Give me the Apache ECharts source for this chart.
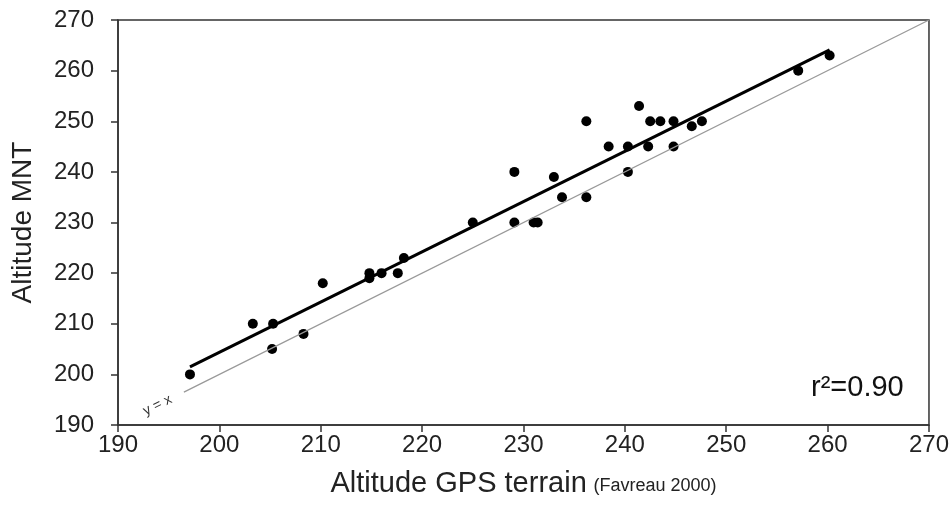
<!DOCTYPE html>
<html>
<head>
<meta charset="utf-8">
<script src="https://cdn.jsdelivr.net/npm/echarts@6/dist/echarts.min.js"></script>
<style>
html,body{margin:0;padding:0;background:#fff}
#main{width:952px;height:518px}
</style>
</head>
<body>
<div id="main"></div>
<script>
// GPS altitude (x) vs DEM altitude (y)
var gpsAlt = [197.1,203.3,205.3,205.2,208.3,210.2,214.8,214.8,216.0,217.6,218.2,
	225.0,229.1,229.1,231.0,231.4,233.0,233.8,236.2,236.2,238.4,240.3,240.3,
	241.4,242.5,242.3,243.5,244.8,244.8,246.6,247.6,257.1,260.2];
var mntAlt = [200,210,210,205,208,218,220,219,220,220,223,
	230,230,240,230,230,239,235,250,235,245,245,240,
	253,250,245,250,250,245,249,250,260,263];
// fitted line end points
var fitX = [197.1,260.2];
var fitY = [201.5,264.1];
var identX = [196.5,270];
var identLabelAt = [193.9,193.9];
var axisTicks = [190,200,210,220,230,240,250,260,270];

var chart = echarts.init(document.getElementById('main'));
var pts = gpsAlt.map(function(v,i){return [v,mntAlt[i]];});
var fit = fitX.map(function(v,i){return [v,fitY[i]];});
var ident = identX.map(function(v){return [v,v];});

var font = 'Liberation Sans';
var option = {
	animation:false,
	grid:{left:118,right:23,top:20,bottom:93,show:true,borderColor:'#333',borderWidth:1.5},
	xAxis:{
		type:'value',min:axisTicks[0],max:axisTicks[axisTicks.length-1],interval:10,
		name:'{a|Altitude GPS terrain}  {b|(Favreau 2000)}',
		nameLocation:'middle',nameGap:44,
		nameTextStyle:{rich:{
			a:{fontFamily:font,fontSize:29,color:'#222'},
			b:{fontFamily:font,fontSize:18,color:'#222',padding:[6,0,0,0]}
		}},
		axisLine:{lineStyle:{color:'#333',width:1.5}},
		axisTick:{length:7,lineStyle:{color:'#333',width:1.5}},
		axisLabel:{fontFamily:font,fontSize:24,color:'#222',margin:8},
		splitLine:{show:false}
	},
	yAxis:{
		type:'value',min:axisTicks[0],max:axisTicks[axisTicks.length-1],interval:10,
		name:'Altitude MNT',nameLocation:'middle',nameGap:81,
		nameTextStyle:{fontFamily:font,fontSize:28,color:'#222'},
		axisLine:{lineStyle:{color:'#333',width:1.5}},
		axisTick:{length:7,lineStyle:{color:'#333',width:1.5}},
		axisLabel:{fontFamily:font,fontSize:24,color:'#222',margin:24},
		splitLine:{show:false}
	},
	series:[
		{
			type:'line',data:ident,symbol:'none',silent:true,
			lineStyle:{color:'#999',width:1.2},
			markPoint:{
				symbol:'circle',symbolSize:1,silent:true,
				itemStyle:{color:'rgba(0,0,0,0)'},
				label:{show:true,position:'inside',formatter:'y = x',rotate:26.5,
					fontFamily:font,fontSize:14,color:'#333'},
				data:[{coord:identLabelAt}]
			}
		},
		{
			type:'line',data:fit,symbol:'none',silent:true,
			lineStyle:{color:'#000',width:3}
		},
		{
			type:'scatter',data:pts,symbolSize:10,
			itemStyle:{color:'#000',opacity:1}
		}
	],
	graphic:[{
		type:'text',left:811,top:373,
		style:{text:'r²=0.90',font:'29px "Liberation Sans"',fill:'#111'}
	}]
};
chart.setOption(option);
</script>
</body>
</html>
